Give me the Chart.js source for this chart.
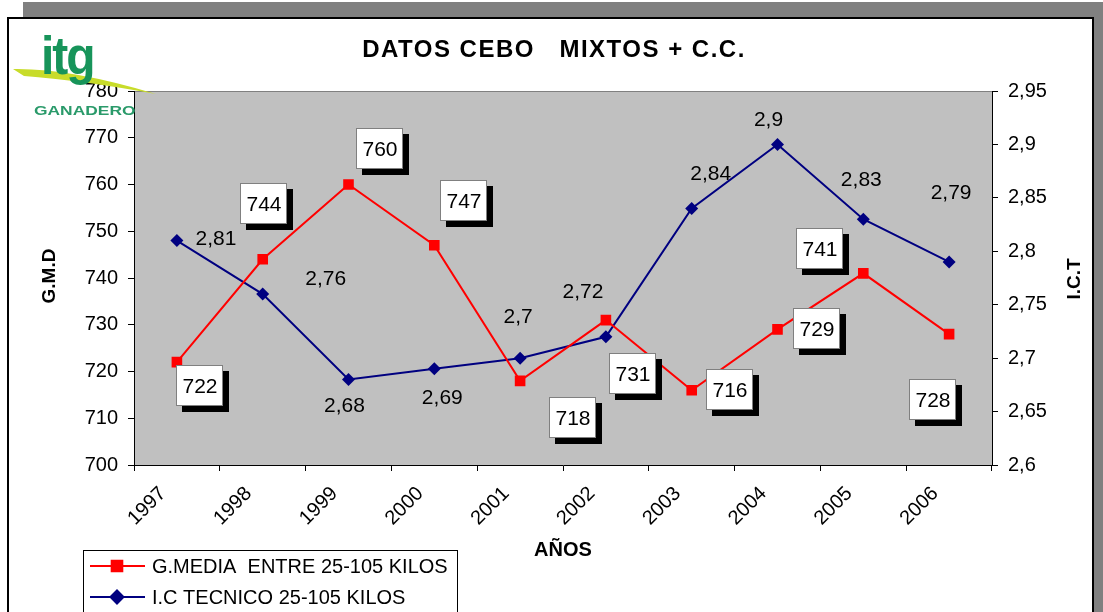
<!DOCTYPE html>
<html>
<head>
<meta charset="utf-8">
<title>DATOS CEBO MIXTOS + C.C.</title>
<script src="https://cdn.jsdelivr.net/npm/chart.js@4/dist/chart.umd.min.js"></script>
<style>
  html, body { margin: 0; padding: 0; background: #fff; }
  canvas { display: block; }
</style>
</head>
<body>
<canvas id="chart" width="1103" height="612"></canvas>
<script>
// Datos cebo mixtos + C.C., 1997-2006: G.M.D on the left axis, I.C.T on the right.

const YEARS = ["1997", "1998", "1999", "2000", "2001", "2002", "2003", "2004", "2005", "2006"];
const GMD = [722, 744, 760, 747, 718, 731, 716, 729, 741, 728];
const ICT = [2.81, 2.76, 2.68, 2.69, 2.7, 2.72, 2.84, 2.9, 2.83, 2.79];

const GMD_LABEL = "G.MEDIA  ENTRE 25-105 KILOS";
const ICT_LABEL = "I.C TECNICO 25-105 KILOS";

const GMD_MIN = 700, GMD_MAX = 780, GMD_STEP = 10;
const ICT_MIN = 2.6, ICT_MAX = 2.95, ICT_STEP = 0.05;

// the data labels were dragged around by hand in the original, so keep
// each one's offset (px) from its point
const GMD_LABEL_OFFSETS = [[23, 24], [1, -55], [31, -36], [30, -44], [53, 37], [27, 54], [38, 0], [39, 0], [-43, -24], [-16, 66]];
const ICT_LABEL_OFFSETS = [[39, -1], [63, -15], [-4, 27], [8, 29], [-2, -41], [-23, -45], [19, -34], [-9, -24], [-2, -39], [2, -69]];

const FONT = "'Liberation Sans', Arial, sans-serif";
const RED = "#FF0000";
const NAVY = "#000080";

const comma = (v) => String(Math.round(v * 100) / 100).replace(".", ",");

const framePlugin = {
  id: "frame",
  beforeDraw(chart) {
    const { ctx, chartArea: a } = chart;
    ctx.save();
    ctx.fillStyle = "#fff";
    ctx.fillRect(0, 0, chart.width, chart.height);
    ctx.fillStyle = "#808080";
    ctx.fillRect(23, 2, chart.width - 23, chart.height);
    ctx.fillStyle = "#fff";
    ctx.fillRect(8, 18, 1085, chart.height);
    ctx.strokeStyle = "#000";
    ctx.lineWidth = 2;
    ctx.strokeRect(8, 18, 1085, chart.height + 10);
    // plot area
    ctx.fillStyle = "#C0C0C0";
    ctx.fillRect(a.left, a.top, a.right - a.left, a.bottom - a.top);
    ctx.strokeStyle = "#808080";
    ctx.lineWidth = 1;
    ctx.beginPath();
    ctx.moveTo(a.left, a.top + 0.5);
    ctx.lineTo(a.right, a.top + 0.5);
    ctx.stroke();
    ctx.restore();
  },
};

const labelsPlugin = {
  id: "valueLabels",
  afterDatasetsDraw(chart) {
    const ctx = chart.ctx;
    ctx.save();
    ctx.textAlign = "center";
    ctx.textBaseline = "middle";
    ctx.font = `21px ${FONT}`;

    const w = 47, h = 41;
    chart.getDatasetMeta(0).data.forEach((pt, i) => {
      const cx = Math.round(pt.x + GMD_LABEL_OFFSETS[i][0]);
      const cy = Math.round(pt.y + GMD_LABEL_OFFSETS[i][1]);
      const x0 = cx - Math.round(w / 2), y0 = cy - Math.round(h / 2);
      ctx.fillStyle = "#000";
      ctx.fillRect(x0 + 6, y0 + 6, w, h);
      ctx.fillStyle = "#fff";
      ctx.fillRect(x0, y0, w, h);
      ctx.strokeStyle = "#808080";
      ctx.lineWidth = 1;
      ctx.strokeRect(x0 + 0.5, y0 + 0.5, w - 1, h - 1);
      ctx.fillStyle = "#000";
      ctx.fillText(String(GMD[i]), cx, cy + 1);
    });

    ctx.fillStyle = "#000";
    chart.getDatasetMeta(1).data.forEach((pt, i) => {
      ctx.fillText(comma(ICT[i]), pt.x + ICT_LABEL_OFFSETS[i][0], pt.y + ICT_LABEL_OFFSETS[i][1]);
    });
    ctx.restore();
  },
};

const decorPlugin = {
  id: "decor",
  afterDraw(chart) {
    const { ctx, chartArea: a } = chart;
    ctx.save();
    ctx.fillStyle = "#000";
    ctx.textAlign = "center";
    ctx.textBaseline = "middle";

    // title
    ctx.font = `bold 24px ${FONT}`;
    ctx.letterSpacing = "1.5px";
    ctx.fillText("DATOS CEBO   MIXTOS + C.C.", 554, 50);
    ctx.letterSpacing = "0px";

    // axis titles
    ctx.font = `bold 20px ${FONT}`;
    ctx.fillText("AÑOS", (a.left + a.right) / 2, 550);
    ctx.font = `bold 19px ${FONT}`;
    ctx.save();
    ctx.translate(50, 276);
    ctx.rotate(-Math.PI / 2);
    ctx.fillText("G.M.D", 0, 0);
    ctx.restore();
    ctx.save();
    ctx.translate(1075, 279);
    ctx.rotate(-Math.PI / 2);
    ctx.fillText("I.C.T", 0, 0);
    ctx.restore();

    // legend
    ctx.strokeStyle = "#000";
    ctx.lineWidth = 1;
    ctx.strokeRect(83.5, 550.5, 374, 80);
    ctx.textAlign = "left";
    ctx.font = `20px ${FONT}`;
    [0, 1].forEach((di, row) => {
      const ds = chart.data.datasets[di];
      const y = 566 + row * 31;
      ctx.strokeStyle = ds.borderColor;
      ctx.lineWidth = 2;
      ctx.beginPath();
      ctx.moveTo(90, y);
      ctx.lineTo(145, y);
      ctx.stroke();
      ctx.fillStyle = ds.backgroundColor;
      Chart.helpers.drawPoint(ctx, { pointStyle: ds.pointStyle, radius: ds.pointRadius, borderWidth: 1 }, 117, y);
      ctx.fillStyle = "#000";
      ctx.fillText(ds.label, 152, y + 1);
    });

    // itg GANADERO logo
    ctx.fillStyle = "#C8DC2A";
    ctx.beginPath();
    ctx.moveTo(13, 69);
    ctx.quadraticCurveTo(70, 68, 156, 94);
    ctx.quadraticCurveTo(80, 80, 24, 76);
    ctx.closePath();
    ctx.fill();
    ctx.fillStyle = "#17945A";
    ctx.textAlign = "left";
    ctx.textBaseline = "alphabetic";
    ctx.font = `bold 48px 'Liberation Sans Narrow', ${FONT}`;
    ctx.letterSpacing = "-2px";
    ctx.save();
    ctx.translate(41, 74);
    ctx.scale(1, 1.1);
    ctx.fillText("itg", 0, 0);
    ctx.restore();
    ctx.letterSpacing = "0px";
    ctx.fillStyle = "#2A9A6A";
    ctx.font = `900 12px ${FONT}`;
    ctx.save();
    ctx.translate(34, 115);
    ctx.scale(1.45, 1);
    ctx.fillText("GANADERO", 0, 0);
    ctx.restore();

    ctx.restore();
  },
};

new Chart(document.getElementById("chart"), {
  type: "line",
  data: {
    labels: YEARS,
    datasets: [
      {
        label: GMD_LABEL,
        data: GMD,
        yAxisID: "y",
        borderColor: RED,
        backgroundColor: RED,
        borderWidth: 2,
        pointStyle: "rect",
        pointRadius: 7.5,
        pointBorderWidth: 0,
        tension: 0,
      },
      {
        label: ICT_LABEL,
        data: ICT,
        yAxisID: "y1",
        borderColor: NAVY,
        backgroundColor: NAVY,
        borderWidth: 2,
        pointStyle: "rectRot",
        pointRadius: 6.5,
        pointBorderWidth: 0,
        tension: 0,
      },
    ],
  },
  options: {
    responsive: false,
    animation: false,
    devicePixelRatio: 1,
    layout: { padding: { top: 91, left: 0, right: 0, bottom: 0 } },
    plugins: { legend: { display: false }, tooltip: { enabled: false }, title: { display: false } },
    scales: {
      x: {
        type: "category",
        offset: true,
        grid: { offset: true, drawOnChartArea: false, color: "#000", tickLength: 6 },
        border: { color: "#000", width: 1 },
        ticks: { color: "#000", font: { family: FONT, size: 20 }, minRotation: 45, maxRotation: 45, autoSkip: false, padding: 11, labelOffset: -14 },
        afterFit: (s) => { s.height = 147; },
      },
      y: {
        position: "left",
        min: GMD_MIN,
        max: GMD_MAX,
        grid: { drawOnChartArea: false, color: "#000", tickLength: 6 },
        border: { color: "#000", width: 1 },
        ticks: { stepSize: GMD_STEP, color: "#000", font: { family: FONT, size: 20 }, padding: 10 },
        afterFit: (s) => { s.width = 134; },
      },
      y1: {
        position: "right",
        min: ICT_MIN,
        max: ICT_MAX,
        grid: { drawOnChartArea: false, color: "#000", tickLength: 6 },
        border: { color: "#000", width: 1 },
        ticks: { stepSize: ICT_STEP, color: "#000", font: { family: FONT, size: 20 }, padding: 10, callback: (v) => comma(v) },
        afterFit: (s) => { s.width = 111; },
      },
    },
  },
  plugins: [framePlugin, labelsPlugin, decorPlugin],
});
</script>
</body>
</html>
